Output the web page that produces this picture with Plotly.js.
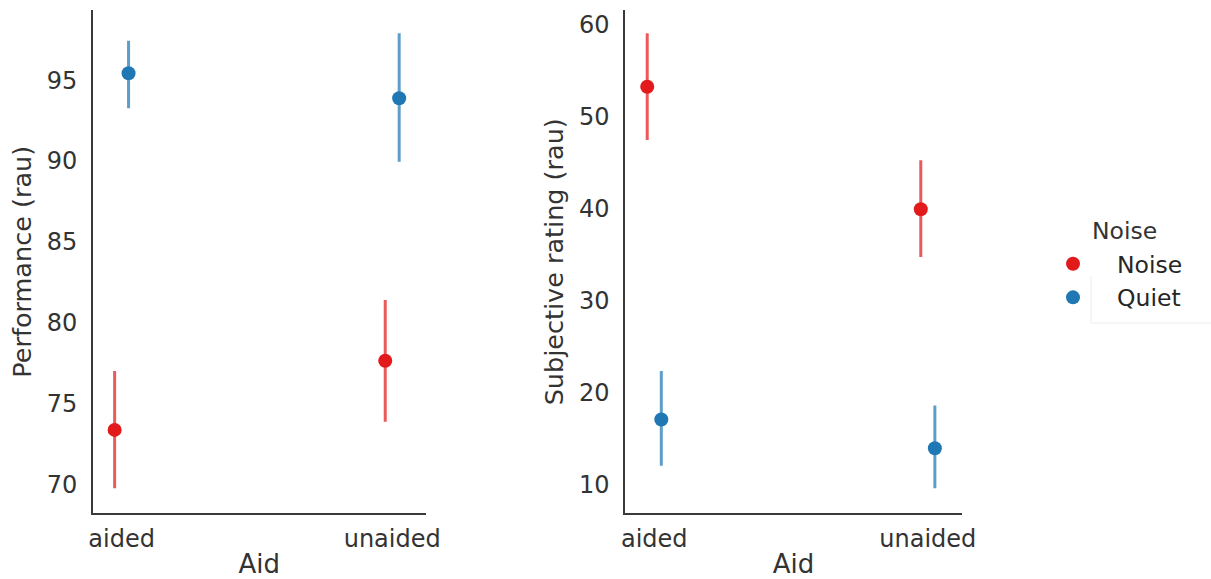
<!DOCTYPE html>
<html>
<head>
<meta charset="utf-8">
<script src="https://cdn.plot.ly/plotly-3.0.1.min.js"></script>
<style>html,body{margin:0;padding:0;background:#fff;}#chart{width:1211px;height:579px;}</style>
</head>
<body>
<div id="chart"></div>
<script>
// Data (means with confidence intervals)
const aidCategories = ['aided', 'unaided'];
const noiseLevels = ['Noise', 'Quiet'];

const perfNoiseMean = [73.4, 77.67];
const perfNoiseLow  = [69.8, 73.91];
const perfNoiseHigh = [77.04, 81.42];

const perfQuietMean = [95.42, 93.88];
const perfQuietLow  = [93.26, 89.96];
const perfQuietHigh = [97.43, 97.89];

const subjNoiseMean = [53.29, 39.95];
const subjNoiseLow  = [47.49, 34.77];
const subjNoiseHigh = [59.10, 45.29];

const subjQuietMean = [17.09, 13.95];
const subjQuietLow  = [12.05, 9.6];
const subjQuietHigh = [22.35, 18.6];

const colors = {Noise: '#e31a1c', Quiet: '#1f78b4'};
const errColors = {Noise: 'rgba(227,26,28,0.72)', Quiet: 'rgba(31,120,180,0.72)'};

function tr(name, mean, low, high, xa, ya, showLeg) {
  return {
    type: 'scatter', mode: 'markers', name: name,
    x: aidCategories, y: mean,
    xaxis: xa, yaxis: ya,
    offsetgroup: name,
    showlegend: showLeg, legendgroup: name,
    marker: {color: colors[name], size: 14},
    error_y: {
      type: 'data', symmetric: false,
      array: high.map((h, i) => h - mean[i]),
      arrayminus: mean.map((m, i) => m - low[i]),
      color: errColors[name], thickness: 3, width: 0
    },
    hoverinfo: 'x+y+name'
  };
}

const data = [
  tr('Noise', perfNoiseMean, perfNoiseLow, perfNoiseHigh, 'x', 'y', true),
  tr('Quiet', perfQuietMean, perfQuietLow, perfQuietHigh, 'x', 'y', true),
  tr('Noise', subjNoiseMean, subjNoiseLow, subjNoiseHigh, 'x2', 'y2', false),
  tr('Quiet', subjQuietMean, subjQuietLow, subjQuietHigh, 'x2', 'y2', false)
];

const FONT = 'DejaVu Sans, sans-serif';
const TXT = '#333333';
const axLine = {showline: true, linecolor: '#3a3a3a', linewidth: 1.6, showgrid: false, zeroline: false, ticks: '', mirror: false};

const xCommon = Object.assign({}, axLine, {
  type: 'category', range: [-0.107, 1.125],
  tickfont: {family: FONT, size: 24, color: TXT},
  ticklabelstandoff: 3,
  title: {text: 'Aid', font: {family: FONT, size: 26, color: TXT}, standoff: 4}
});

const layout = {
  width: 1211, height: 579,
  margin: {l: 0, r: 0, t: 0, b: 0},
  paper_bgcolor: '#ffffff', plot_bgcolor: '#ffffff',
  font: {family: FONT, color: TXT},
  scattermode: 'group', scattergap: 0.897,
  xaxis: Object.assign({}, xCommon, {domain: [0.0765, 0.3518], anchor: 'y'}),
  xaxis2: Object.assign({}, xCommon, {domain: [0.5161, 0.7944], anchor: 'y2'}),
  yaxis: Object.assign({}, axLine, {
    domain: [0.1135, 0.9822], anchor: 'x', range: [68.25, 99.31],
    tickvals: [70, 75, 80, 85, 90, 95],
    tickfont: {family: FONT, size: 24, color: TXT},
    ticklabelstandoff: 9,
    title: {text: 'Performance (rau)', font: {family: FONT, size: 25.5, color: TXT}, standoff: 8}
  }),
  yaxis2: Object.assign({}, axLine, {
    domain: [0.1135, 0.9822], anchor: 'x2', range: [6.88, 61.6],
    tickvals: [10, 20, 30, 40, 50, 60],
    tickfont: {family: FONT, size: 24, color: TXT},
    ticklabelstandoff: 9,
    title: {text: 'Subjective rating (rau)', font: {family: FONT, size: 25.5, color: TXT}, standoff: 8}
  }),
  legend: {
    x: 1029 / 1211, xanchor: 'left', y: 1 - 281 / 579, yanchor: 'middle',
    font: {family: FONT, size: 23.5, color: '#262626'},
    bgcolor: 'rgba(0,0,0,0)', borderwidth: 0,
    itemwidth: 78, tracegroupgap: 0
  },
  annotations: [{
    text: 'Noise', xref: 'paper', yref: 'paper',
    x: 1090 / 1211, xanchor: 'left', y: 1 - 231 / 579, yanchor: 'middle',
    showarrow: false, font: {family: FONT, size: 23.5, color: '#333333'}
  }],
  shapes: [
    {type: 'line', xref: 'paper', yref: 'paper', x0: 1091/1211, x1: 1, y0: 1-323/579, y1: 1-323/579, line: {color: '#ececec', width: 1}},
    {type: 'line', xref: 'paper', yref: 'paper', x0: 1091/1211, x1: 1091/1211, y0: 1-323/579, y1: 1-276/579, line: {color: '#ececec', width: 1}}
  ]
};

Plotly.newPlot('chart', data, layout, {displayModeBar: false, staticPlot: true});
</script>
</body>
</html>
